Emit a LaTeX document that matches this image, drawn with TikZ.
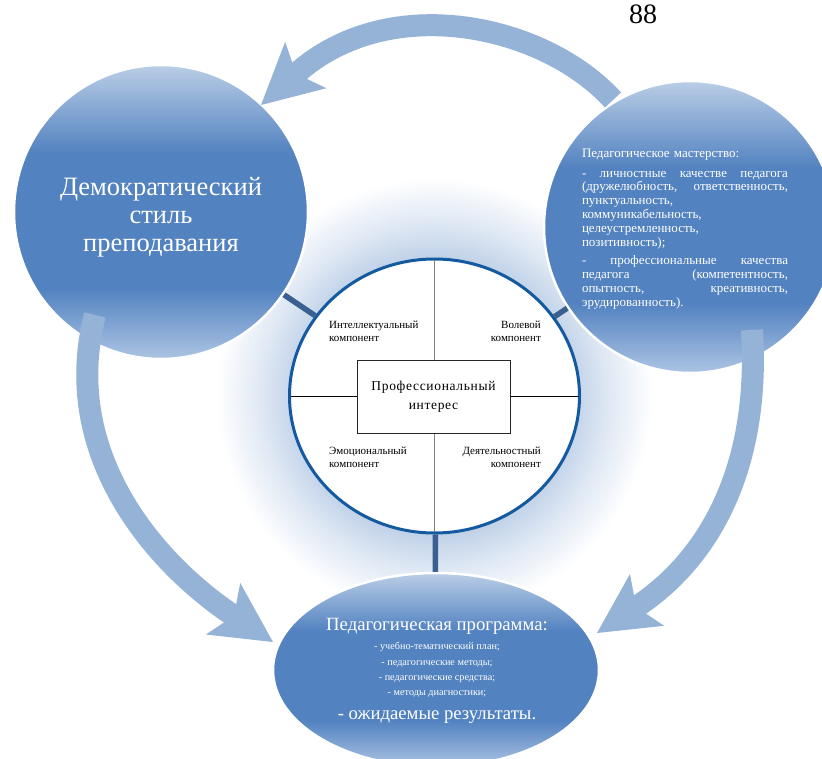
\documentclass[tikz,border=0pt]{standalone}
\usepackage{fontspec}
\setmainfont{Liberation Serif}
\usetikzlibrary{arrows.meta,shapes.geometric}
\definecolor{bdark}{RGB}{82,130,192}
\definecolor{blighttop}{RGB}{186,206,230}
\definecolor{blightbot}{RGB}{172,196,227}
\definecolor{glowc}{RGB}{193,210,232}
\definecolor{glowm}{RGB}{220,230,243}
\definecolor{arrowc}{RGB}{149,179,215}
\definecolor{stubc}{RGB}{58,95,145}
\definecolor{coreblue}{RGB}{20,90,160}
\pgfdeclareverticalshading{blobshade}{100bp}{color(0bp)=(blightbot); color(25bp)=(blightbot); color(37bp)=(bdark); color(60bp)=(bdark); color(75bp)=(blighttop); color(100bp)=(blighttop)}
\pgfdeclareradialshading{glowshade}{\pgfpoint{0bp}{0bp}}{color(0bp)=(glowc); color(16bp)=(glowc); color(19.5bp)=(glowm); color(25bp)=(white); color(50bp)=(white)}
\newcommand{\fl}[1]{\leavevmode\hbox to 206pt{#1}}
\begin{document}
\begin{tikzpicture}[x=1pt,y=-1pt,
  blob/.style={shade, shading=blobshade, draw=white, line width=2.5pt, text=white, inner sep=0pt},
  arrowshaft/.style={draw=arrowc, line width=22pt, line cap=butt, -{Stealth[length=60pt,width=62pt,inset=13pt,line width=0pt]}},
  stub/.style={draw=stubc, line width=5.5pt},
  complabel/.style={font=\fontsize{11}{13}\selectfont, inner sep=0pt},
  ptext/.style={text=white, inner sep=0pt, anchor=base},
  pbig/.style={ptext, font=\fontsize{18.7}{20}\selectfont},
  psmall/.style={ptext, font=\fontsize{10.2}{11}\selectfont}]
\useasboundingbox (0,0) rectangle (822,758);
\clip (0,0) rectangle (822,758);
\fill[white] (0,0) rectangle (822,758);
% glow
\shade[shading=glowshade] (434.5,396) circle (218pt);
% outer shapes
\node[blob, circle, minimum size=294pt] (demo) at (161,212) {};
\node[text=white, inner sep=0pt, align=center, font=\fontsize{26.5}{28.2}\selectfont] (demotext) at (161,217) {Демократический\\стиль\\преподавания};
\node[blob, circle, minimum size=292pt] (mast) at (690,227) {};
\node[text=white, inner sep=0pt, text width=206pt, align=left, font=\fontsize{13}{13.8}\selectfont] (mtext) at (685,229) {Педагогическое мастерство:\\[6pt]
\fl{-\hfill личностные\hfill качестве\hfill педагога}\\
\fl{(дружелюбность,\hfill ответственность,}\\
пунктуальность,\\
коммуникабельность,\\
целеустремленность,\\
позитивность);\\[5pt]
\fl{-\hfill профессиональные\hfill качества}\\
\fl{педагога\hfill (компетентность,}\\
\fl{опытность,\hfill креативность,}\\
эрудированность).};
\node[blob, ellipse, minimum width=326pt, minimum height=194pt] (prog) at (436,670) {};
\node[pbig] (pp1) at (437,630) {Педагогическая программа:};
\node[psmall] (pp2) at (437,649.5) {- учебно-тематический план;};
\node[psmall] (pp3) at (437,665) {- педагогические методы;};
\node[psmall] (pp4) at (437,680) {- педагогические средства;};
\node[psmall] (pp5) at (437,695) {- методы диагностики;};
\node[pbig] (pp6) at (437,719) {- ожидаемые результаты.};
% core
\node[ellipse, draw=coreblue, line width=3pt, fill=white, minimum width=290pt, minimum height=274pt, inner sep=0pt] (core) at (434.5,396) {};
\draw[gray, line width=1.2pt, shorten <=2.5pt, shorten >=2.5pt] (core.north) -- (core.south);
\draw[black, line width=0.8pt, shorten <=2.5pt, shorten >=2.5pt] (core.west) -- (core.east);
\node[draw=black!85, fill=white, line width=0.8pt, minimum width=153pt, minimum height=73pt, align=center, font=\fontsize{13.5}{19}\selectfont\addfontfeatures{LetterSpace=5}] (pi) at (433.5,396.5) {Профессиональный\\интерес};
\node[complabel, anchor=north west, align=left] (c1) at (329,321) {Интеллектуальный\\компонент};
\node[complabel, anchor=north east, align=right] (c2) at (541,321) {Волевой\\компонент};
\node[complabel, anchor=north west, align=left] (c3) at (329,447) {Эмоциональный\\компонент};
\node[complabel, anchor=north east, align=right] (c4) at (541,447) {Деятельностный\\компонент};
% stubs
\draw[stub] (demo) -- (core);
\draw[stub] (mast) -- (core);
\draw[stub] (core) -- (prog);
% arrows
\coordinate (t1) at (613,100);
\coordinate (t2) at (261,105);
\coordinate (l1) at (95,315);
\coordinate (l2) at (273,642);
\coordinate (r1) at (752,330);
\coordinate (r2) at (597,633);
\draw[arrowshaft] (t1) .. controls (545,25) and (390,-10) .. (t2);
\draw[arrowshaft] (l1) .. controls (60,450) and (150,560) .. (l2);
\draw[arrowshaft] (r1) .. controls (760,460) and (715,555) .. (r2);
% page number
\node[font=\fontsize{28}{30}\selectfont, anchor=base, inner sep=0pt] (pg) at (643,23) {88};
\end{tikzpicture}
\end{document}
